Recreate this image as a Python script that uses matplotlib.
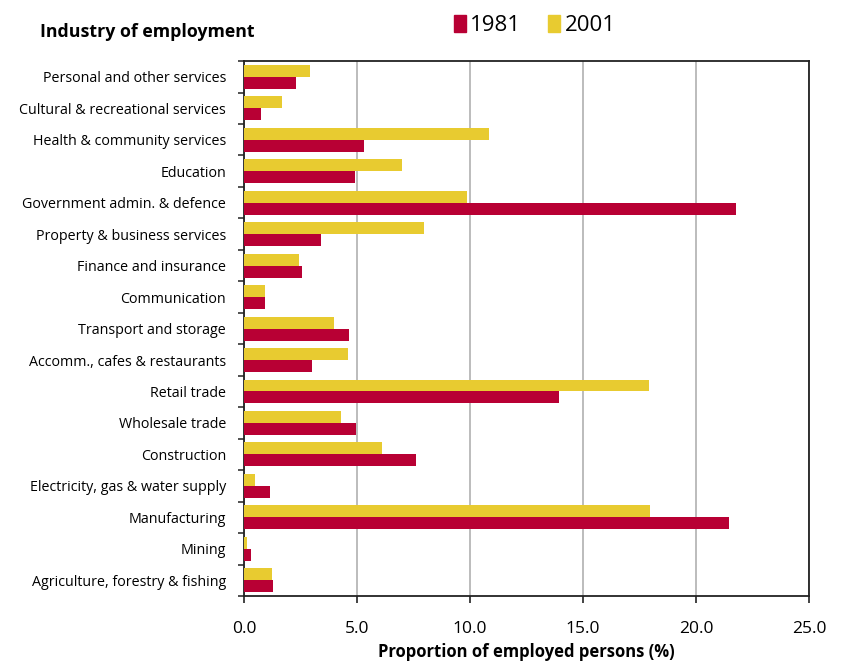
import numpy as np
import matplotlib.pyplot as plt
from matplotlib.patches import Patch
from matplotlib.ticker import FormatStrFormatter, FixedLocator

plt.rcParams['font.family'] = ['Open Sans', 'DejaVu Sans']

# industries listed top to bottom, as in the chart
industries = [
    "Personal and other services",
    "Cultural & recreational services",
    "Health & community services",
    "Education",
    "Government admin. & defence",
    "Property & business services",
    "Finance and insurance",
    "Communication",
    "Transport and storage",
    "Accomm., cafes & restaurants",
    "Retail trade",
    "Wholesale trade",
    "Construction",
    "Electricity, gas & water supply",
    "Manufacturing",
    "Mining",
    "Agriculture, forestry & fishing",
]
share_1981 = [2.3, 0.75, 5.3, 4.9, 21.75, 3.4, 2.55, 0.95, 4.65, 3.0, 13.95,
              4.95, 7.6, 1.15, 21.45, 0.3, 1.3]
share_2001 = [2.9, 1.7, 10.85, 7.0, 9.85, 7.95, 2.45, 0.95, 4.0, 4.6, 17.9,
              4.3, 6.1, 0.5, 17.95, 0.12, 1.25]

red = "#B80034"
yellow = "#E8CB30"

fig = plt.figure(figsize=(8.46, 6.64), dpi=100)
ax = fig.add_axes([0.2884, 0.1024, 0.6679, 0.8056])

n = len(industries)
y = np.arange(n)[::-1]
h = 0.38
ax.barh(y + h / 2, share_2001, height=h, color=yellow, zorder=3)
ax.barh(y - h / 2, share_1981, height=h, color=red, zorder=3)

ax.set_xlim(0, 25)
ax.set_ylim(-0.5, n - 0.5)
ax.set_xticks(np.arange(0, 25.1, 5))
ax.xaxis.set_major_formatter(FormatStrFormatter("%.1f"))
ax.set_yticks(y)
ax.set_yticklabels(industries, fontsize=10.3)
ax.yaxis.set_minor_locator(FixedLocator(np.arange(-0.5, n, 1)))
ax.tick_params(axis="y", which="major", length=0, pad=13)
ax.tick_params(axis="y", which="minor", length=4, width=1.2, direction="out", color="#333333")
ax.tick_params(axis="x", length=5, width=1.2, pad=13, labelsize=12.5, color="#222222")

ax.grid(axis="x", color="#b0b0b0", linewidth=1.2, zorder=0)
for s in ax.spines.values():
    s.set_color("#222222")
    s.set_linewidth(1.3)

ax.set_xlabel("Proportion of employed persons (%)", fontsize=12, fontweight="bold", labelpad=4)

fig.text(0.047, 0.952, "Industry of employment", fontsize=12.8, fontweight="bold", va="center")

handles = [Patch(color=red, label="1981"), Patch(color=yellow, label="2001")]
fig.legend(handles=handles, loc="center", bbox_to_anchor=(0.632, 0.962), ncol=2, frameon=False,
           fontsize=16, handlelength=0.55, handleheight=0.8, handletextpad=0.2, columnspacing=1.2)

fig.savefig("out.png", dpi=100)
